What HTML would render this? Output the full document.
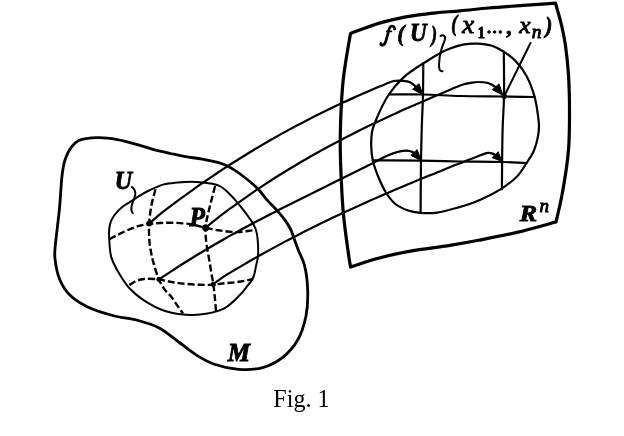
<!DOCTYPE html>
<html><head><meta charset="utf-8"><style>
html,body{margin:0;padding:0;background:#fff;}
body{width:624px;height:436px;overflow:hidden;font-family:"Liberation Serif",serif;}
svg{display:block;filter:grayscale(1);}
</style></head><body>
<svg width="624" height="436" viewBox="0 0 624 436">
<g fill="none" stroke="#000" stroke-linecap="round" stroke-linejoin="round">
<path stroke-width="3.2" d="M350.5 33.5C359.8 30.1 370.0 26.0 378.5 23.4C385.4 21.3 391.3 20.0 397.7 18.6C404.1 17.2 410.5 16.2 416.9 15.2C423.3 14.2 429.4 13.5 436.2 12.8C443.7 12.0 451.7 11.6 460.0 10.8C469.1 10.0 478.3 8.9 488.5 8.0C500.4 7.0 515.1 6.0 527.0 5.2C537.2 4.5 546.0 3.9 555.5 3.2C557.5 10.5 559.8 17.9 561.5 25.0C563.1 31.8 564.3 37.6 565.4 45.0C566.7 54.0 567.8 64.5 568.5 75.0C569.2 86.4 569.5 98.8 569.5 111.0C569.5 123.7 569.6 136.6 568.5 150.0C567.3 164.5 564.4 181.9 562.0 195.0C560.1 205.2 558.0 213.0 556.0 222.0C543.0 225.5 530.0 229.3 517.0 232.4C504.2 235.4 490.4 238.0 478.5 240.3C468.3 242.3 460.3 243.7 450.0 245.4C437.9 247.4 423.2 248.8 410.5 251.1C398.4 253.3 385.9 256.1 375.3 259.0C366.2 261.5 358.8 264.3 350.5 267.0C349.6 261.3 348.8 256.8 347.9 250.0C346.5 240.0 344.4 225.0 343.3 213.0C342.3 201.7 341.8 190.7 341.3 180.0C340.8 169.8 340.4 159.0 340.3 150.0C340.2 142.7 340.2 137.2 340.4 130.0C340.6 121.4 341.0 110.8 341.5 102.0C342.0 94.2 342.4 87.1 343.2 80.0C343.9 73.2 344.9 67.1 346.0 60.0C347.3 51.8 349.0 42.3 350.5 33.5Z"/>
<path stroke-width="2.8" d="M54.9 250.0C55.4 241.7 58.1 222.7 59.4 209.4C60.6 196.7 61.1 181.3 62.5 172.0C63.3 166.4 63.9 163.0 65.4 158.8C66.8 154.7 68.8 150.4 71.2 147.3C73.3 144.5 75.4 142.2 78.8 140.6C83.5 138.4 91.6 137.9 98.0 137.7C104.4 137.5 110.9 138.5 117.3 139.6C123.7 140.7 130.1 142.6 136.5 144.4C142.9 146.2 149.5 148.6 155.8 150.2C161.6 151.7 167.5 152.9 172.8 154.0C177.4 155.0 181.0 155.8 185.6 156.6C190.8 157.5 196.9 158.2 202.3 159.2C207.5 160.2 213.1 161.1 217.7 162.4C221.5 163.5 224.5 164.5 228.0 166.2C232.0 168.2 235.9 170.8 240.2 174.0C245.6 178.0 252.8 183.8 257.6 188.6C261.6 192.6 264.3 196.8 267.7 200.6C270.9 204.2 274.5 207.6 277.5 211.0C280.2 214.1 282.8 217.0 285.0 220.1C287.1 223.0 289.0 226.0 290.5 229.0C291.8 231.7 292.5 234.2 293.6 237.3C295.0 241.1 296.6 245.6 298.3 250.0C300.1 254.7 302.7 258.9 304.2 264.4C306.1 271.3 307.3 280.2 307.6 288.5C308.0 297.3 307.7 307.3 306.0 316.0C304.3 324.4 301.7 333.0 297.7 340.0C293.9 346.7 288.6 352.7 282.7 357.3C276.9 361.9 269.8 365.6 262.6 367.6C255.1 369.7 246.5 369.9 238.5 369.3C230.4 368.7 221.6 366.7 214.4 364.2C208.0 362.0 202.8 359.0 197.2 355.6C191.3 352.0 186.0 347.4 180.0 343.0C173.4 338.2 166.4 331.7 159.2 327.9C152.5 324.4 145.6 322.5 138.3 320.5C130.7 318.4 122.6 318.1 114.5 316.0C105.8 313.7 95.5 310.8 87.7 307.0C80.9 303.7 74.6 300.0 69.8 295.1C65.3 290.5 61.9 284.7 59.4 278.7C56.8 272.4 55.5 263.2 54.9 257.9C54.6 254.7 54.7 253.6 54.9 250.0Z"/>
<path stroke-width="2" d="M109.3 240.0C109.0 236.0 108.9 232.7 109.2 229.4C109.5 226.5 109.9 223.9 110.9 221.4C111.8 218.9 113.2 216.8 114.9 214.5C117.0 211.8 120.0 208.8 122.9 206.5C125.7 204.2 129.3 202.5 132.1 200.7C134.6 199.1 136.4 197.7 139.0 196.1C142.2 194.1 146.1 191.9 150.0 190.0C154.3 188.0 159.1 185.7 163.8 184.4C168.3 183.2 172.9 182.9 177.5 182.4C182.1 182.0 187.2 181.7 191.3 181.7C194.5 181.7 196.8 181.9 200.0 182.2C203.8 182.6 208.7 183.0 212.4 183.8C215.5 184.5 218.1 185.1 220.6 186.5C223.1 187.9 225.1 189.8 227.5 192.0C230.6 194.8 234.2 198.8 237.2 202.3C240.1 205.7 242.8 209.3 245.4 212.7C247.8 215.9 250.4 219.0 252.3 222.3C254.1 225.4 255.6 228.5 256.5 232.0C257.5 235.9 257.8 240.5 258.0 244.6C258.2 248.6 258.4 252.5 258.0 256.3C257.6 259.9 256.7 263.1 255.9 266.6C255.1 270.2 254.8 274.3 253.2 277.7C251.6 281.2 248.7 284.3 246.3 287.3C244.1 290.2 242.3 292.6 239.4 295.5C235.5 299.4 230.1 305.2 224.7 308.2C219.5 311.1 213.3 312.5 207.5 313.6C201.8 314.7 196.3 315.3 190.0 315.0C182.4 314.7 172.8 313.5 165.1 311.0C157.7 308.6 150.5 304.6 144.3 300.6C138.7 296.9 133.5 292.6 129.4 288.2C125.8 284.3 123.3 280.4 120.5 275.8C117.3 270.5 113.4 264.0 111.5 257.9C109.7 252.1 109.6 245.2 109.3 240.0Z"/>
<path stroke-width="2.2" d="M477.5 43.6C482.1 43.8 486.7 44.2 491.0 45.5C495.4 46.8 499.5 49.1 503.5 51.6C507.8 54.3 512.1 57.3 515.8 61.2C519.8 65.4 523.5 70.4 526.5 76.0C529.9 82.2 532.7 90.0 534.6 96.9C536.4 103.2 537.3 110.3 538.0 115.6C538.5 119.6 539.0 122.6 539.0 126.0C539.0 129.4 538.7 132.5 538.0 136.2C537.2 140.6 535.8 146.2 533.9 150.7C532.0 155.1 529.3 158.9 526.6 163.0C523.7 167.5 520.9 172.4 517.0 176.5C512.7 181.0 507.4 184.9 501.7 188.6C495.5 192.6 488.2 196.3 481.0 199.4C473.8 202.6 466.0 205.2 458.5 207.4C451.3 209.5 443.7 211.8 437.0 212.6C431.2 213.3 425.5 213.2 420.4 212.8C416.0 212.4 412.2 211.9 408.2 210.5C403.9 209.0 399.1 206.9 395.4 204.0C391.7 201.1 388.9 197.1 386.2 193.0C383.3 188.6 381.1 183.5 378.9 178.3C376.6 172.7 374.1 166.1 372.8 160.4C371.7 155.4 371.3 150.8 371.2 146.0C371.1 141.3 371.2 136.4 372.0 132.0C372.8 127.8 374.1 124.7 376.0 120.0C378.9 113.0 383.9 101.9 388.8 94.5C393.1 88.0 398.4 82.2 403.3 77.6C407.5 73.7 412.2 70.6 416.0 68.0C419.0 66.0 420.7 64.9 424.1 62.9C429.5 59.6 438.4 53.7 445.3 50.6C451.3 47.9 457.2 45.7 462.9 44.6C467.9 43.6 472.7 43.4 477.5 43.6Z"/>
<path stroke-width="2.2" d="M423.3 63.0C423.2 73.5 423.2 83.7 423.0 94.5C422.7 106.0 422.0 118.6 421.7 130.0C421.4 140.5 421.2 148.9 421.0 160.4C420.8 175.5 420.7 195.5 420.6 213.0"/>
<path stroke-width="2.2" d="M503.8 51.6C503.9 66.6 504.3 82.6 504.0 96.5C503.8 108.5 502.9 117.2 502.6 130.0C502.1 147.0 502.1 169.5 501.9 189.3"/>
<path stroke-width="2.2" d="M388.8 94.5C400.2 94.5 411.4 94.3 423.0 94.5C435.1 94.7 447.1 95.7 460.0 96.0C474.0 96.4 490.7 96.3 504.0 96.5C515.1 96.7 524.4 96.8 534.6 97.0"/>
<path stroke-width="2.2" d="M372.8 160.4C388.9 160.5 405.8 160.4 421.0 160.6C434.7 160.8 446.8 161.3 460.0 161.5C473.7 161.7 489.9 161.7 502.0 162.0C511.3 162.2 518.4 162.7 526.6 163.0"/>
<path stroke-width="2.2" d="M149.2 223.5C153.3 220.0 157.3 216.4 161.4 213.1C165.4 209.9 169.5 206.9 173.6 203.9C177.6 200.8 181.7 197.8 185.8 194.9C189.8 192.0 193.9 189.1 197.9 186.2C202.0 183.4 206.1 180.6 210.1 177.8C214.2 175.1 218.2 172.4 222.3 169.7C226.4 167.0 230.4 164.4 234.5 161.8C238.5 159.2 242.6 156.7 246.7 154.2C250.7 151.7 254.8 149.3 258.9 146.9C262.9 144.5 267.0 142.1 271.0 139.8C275.1 137.5 279.2 135.2 283.2 132.9C287.3 130.7 291.4 128.5 295.4 126.3C299.5 124.1 303.5 122.0 307.6 119.9C311.7 117.8 315.7 115.8 319.8 113.8C323.8 111.7 327.9 109.8 332.0 107.8C336.0 105.9 340.1 104.0 344.2 102.1C348.2 100.2 352.3 98.4 356.3 96.6C360.4 94.8 364.5 93.0 368.5 91.3C372.6 89.5 376.6 87.8 380.7 86.1C384.8 84.5 389.0 82.1 392.9 81.2C396.4 80.5 400.0 80.6 403.0 80.8C405.6 81.0 407.8 81.2 410.0 82.2C412.3 83.3 414.3 85.5 416.5 87.2"/>
<path stroke-width="2.2" d="M205.5 227.8C209.6 224.5 213.6 221.1 217.8 217.9C221.8 214.7 225.9 211.7 230.0 208.7C234.1 205.7 238.2 202.7 242.3 199.8C246.4 197.0 250.4 194.1 254.5 191.3C258.6 188.6 262.7 185.9 266.8 183.2C270.9 180.5 275.0 177.9 279.1 175.3C283.1 172.8 287.2 170.3 291.3 167.8C295.4 165.3 299.5 162.9 303.6 160.5C307.7 158.1 311.8 155.8 315.9 153.5C319.9 151.2 324.0 149.0 328.1 146.8C332.2 144.6 336.3 142.4 340.4 140.2C344.5 138.1 348.5 136.0 352.6 133.9C356.7 131.9 360.8 129.8 364.9 127.8C369.0 125.8 373.1 123.9 377.2 121.9C381.2 120.0 385.3 118.1 389.4 116.2C393.5 114.3 397.6 112.5 401.7 110.6C405.8 108.8 409.9 107.0 414.0 105.2C418.0 103.4 422.1 101.6 426.2 99.9C430.3 98.1 434.4 96.4 438.5 94.7C442.6 92.9 446.6 91.2 450.7 89.5C454.8 87.8 459.3 85.6 463.0 84.5C465.9 83.6 468.4 83.2 471.0 82.8C473.5 82.4 475.7 82.0 478.2 82.0C481.0 82.0 484.5 82.2 487.0 82.8C488.9 83.3 490.4 84.0 492.0 84.8C493.5 85.6 494.9 86.7 496.3 87.6"/>
<path stroke-width="2.2" d="M159.1 279.4C163.1 276.7 167.2 274.0 171.2 271.4C175.2 268.7 179.2 266.1 183.3 263.5C187.3 261.0 191.3 258.5 195.4 256.0C199.4 253.5 203.4 251.1 207.5 248.7C211.5 246.4 215.5 244.0 219.5 241.7C223.6 239.4 227.6 237.1 231.6 234.9C235.7 232.7 239.7 230.4 243.7 228.3C247.8 226.1 251.8 223.9 255.8 221.8C259.8 219.7 263.9 217.6 267.9 215.5C271.9 213.4 276.0 211.4 280.0 209.3C284.0 207.3 288.1 205.2 292.1 203.2C296.1 201.2 300.1 199.2 304.2 197.2C308.2 195.2 312.2 193.2 316.3 191.2C320.3 189.2 324.3 187.2 328.4 185.2C332.4 183.3 336.4 181.3 340.4 179.3C344.5 177.3 348.5 175.3 352.5 173.3C356.6 171.3 360.6 169.3 364.6 167.3C368.7 165.2 372.7 163.2 376.7 161.1C380.7 159.1 384.5 156.6 388.8 154.9C393.3 153.2 399.0 151.3 403.0 150.8C405.9 150.5 408.4 150.6 410.5 151.2C412.2 151.6 413.3 152.6 414.7 153.3"/>
<path stroke-width="2.2" d="M213.3 283.9C217.3 281.1 221.3 278.2 225.3 275.6C229.3 273.1 233.3 270.8 237.4 268.4C241.4 266.0 245.4 263.7 249.4 261.3C253.4 259.0 257.4 256.8 261.4 254.5C265.4 252.3 269.4 250.1 273.5 247.9C277.5 245.7 281.5 243.6 285.5 241.4C289.5 239.3 293.5 237.2 297.5 235.2C301.5 233.1 305.5 231.1 309.6 229.1C313.6 227.1 317.6 225.1 321.6 223.1C325.6 221.2 329.6 219.3 333.6 217.3C337.6 215.4 341.6 213.6 345.6 211.7C349.7 209.8 353.7 208.0 357.7 206.2C361.7 204.4 365.7 202.6 369.7 200.8C373.7 199.0 377.7 197.2 381.7 195.5C385.8 193.8 389.8 192.0 393.8 190.3C397.8 188.6 401.8 186.9 405.8 185.2C409.8 183.6 413.8 181.9 417.8 180.2C421.8 178.6 425.9 176.9 429.9 175.3C433.9 173.7 437.9 172.1 441.9 170.4C445.9 168.8 449.9 167.2 453.9 165.6C457.9 164.1 462.0 162.5 466.0 160.9C470.0 159.3 474.2 157.6 478.0 156.2C481.4 154.9 485.1 153.2 487.7 152.9C489.4 152.7 490.6 153.0 492.0 153.4C493.4 153.8 494.6 154.7 495.9 155.4"/>
<path stroke-width="2" d="M530.5 43L504 96.5"/>
<path stroke-width="2" d="M440.5 36C441.5 34.8 444 34.6 445 37C445.8 39.5 443 44 441.5 49C440 54 439 59 439 65C439 69.5 440 71.6 442.6 71.2"/>
<path stroke-width="2" d="M131.9 187C134 188.5 135.5 190.5 135.3 194C135 197.5 133 201 132 204.5C131 208 130.8 211 132.8 213.2"/>
</g>
<g fill="none" stroke="#000" stroke-width="2.4" stroke-dasharray="7 3" stroke-linecap="butt">
<path d="M109.5 239.2C112.0 237.9 114.2 236.6 117.0 235.2C120.3 233.5 124.3 231.6 128.0 230.0C131.6 228.4 135.4 226.8 139.0 225.8C142.4 224.9 145.7 224.5 149.2 224.0C152.7 223.5 156.1 223.2 160.0 223.0C164.6 222.8 169.9 222.6 175.0 222.8C180.3 223.0 186.1 223.5 191.3 224.4C196.2 225.2 200.9 226.8 205.5 227.8C209.9 228.7 213.6 229.6 218.3 230.3C223.9 231.1 230.7 232.1 236.7 232.1C242.4 232.1 247.7 230.9 253.2 230.3"/>
<path d="M129.4 285.0C131.6 283.7 133.6 282.0 136.0 281.0C138.5 280.0 140.9 279.3 144.0 279.0C148.2 278.5 154.4 278.9 159.0 279.4C163.0 279.9 166.2 281.0 170.0 281.7C174.1 282.4 178.4 283.1 183.0 283.6C188.3 284.2 194.7 284.7 200.0 284.8C204.7 284.9 209.0 284.9 213.3 284.6C217.3 284.3 220.9 283.6 225.0 283.2C229.5 282.7 234.3 282.5 239.0 281.8C243.7 281.1 248.5 279.9 253.2 279.0"/>
<path d="M155.5 189.3C154.2 194.5 152.5 199.5 151.5 205.0C150.4 210.9 149.6 217.5 149.2 223.5C148.9 229.1 148.9 234.9 149.3 240.0C149.6 244.3 150.3 248.1 151.0 252.0C151.7 255.8 152.4 259.0 153.5 263.0C154.9 268.0 156.8 274.6 158.9 279.4C160.7 283.4 162.8 287.0 165.0 290.0C166.9 292.6 169.2 294.2 171.1 296.6C173.2 299.2 175.0 302.2 177.0 305.0C179.0 307.8 181.0 310.7 183.0 313.5"/>
<path d="M215.1 186.0C213.9 190.7 212.6 195.5 211.5 200.0C210.4 204.2 209.4 208.3 208.5 212.0C207.7 215.2 207.0 218.2 206.5 221.0C206.1 223.4 205.6 225.3 205.5 227.8C205.3 231.0 205.6 235.2 205.9 238.8C206.2 242.3 206.7 245.6 207.3 249.1C207.9 252.9 208.7 256.8 209.4 260.8C210.1 264.9 210.7 269.2 211.4 273.2C212.0 276.9 212.8 280.3 213.3 283.9C213.8 287.6 214.2 291.0 214.6 295.0C215.1 299.8 215.5 305.7 216.0 311.0"/>
</g>
<g fill="#000" stroke="#000" stroke-width="1" stroke-linejoin="round">
<path d="M423.0 94.8L412.7 89.2L419.0 83.7Z"/>
<path d="M503.0 95.2L492.3 89.8L499.0 83.9Z"/>
<path d="M421.3 160.6L410.9 155.4L417.1 149.7Z"/>
<path d="M501.8 161.3L492.2 157.7L498.2 151.7Z"/>
<circle cx="205.6" cy="227.8" r="3.1"/>
<circle cx="149.2" cy="223.5" r="2.6"/>
<circle cx="504.2" cy="96.3" r="2.4"/>
<circle cx="158.9" cy="279.4" r="2.1"/>
<circle cx="213.3" cy="284.4" r="2.2"/>
</g>
<g fill="#000" stroke="#000" stroke-width="0.9">
<path fill="none" stroke="#000" stroke-width="2.7" stroke-linecap="round" d="M394.6 29.2C394.6 26.6 392.6 25.4 390.6 26.6C388.9 27.8 388.5 31 387.9 34L385.8 41.2C385 43.6 383.6 45.4 381.9 45.1C381 44.9 380.6 44.2 380.9 43.4"/>
<path fill="none" stroke="#000" stroke-width="1.7" d="M386 31.4L392.2 31.4"/>
<text transform="translate(397.54 41.19) scale(0.847 0.898)" font-size="25" font-family="Liberation Serif" font-weight="bold" font-style="italic">(</text>
<text transform="translate(410.04 41.15) scale(0.924 0.988)" font-size="25" font-family="Liberation Serif" font-weight="bold" font-style="italic">U</text>
<text transform="translate(431.31 41.57) scale(0.695 0.920)" font-size="25" font-family="Liberation Serif" font-weight="bold" font-style="italic">)</text>
<text transform="translate(451.19 31.33) scale(0.729 0.889)" font-size="25" font-family="Liberation Serif" font-weight="bold" font-style="italic">(</text>
<text transform="translate(462.27 32.80) scale(1.078 0.984)" font-size="25" font-family="Liberation Serif" font-style="italic">x</text>
<text transform="translate(477.69 38.00) scale(0.886 1.019)" font-size="16" font-family="Liberation Serif" font-weight="bold">1</text>
<circle cx="489.0" cy="32" r="1.3"/>
<circle cx="494.6" cy="32" r="1.3"/>
<circle cx="500.3" cy="32" r="1.3"/>
<text transform="translate(507.00 33.94) scale(0.995 0.905)" font-size="22" font-family="Liberation Serif" font-weight="bold" font-style="italic">,</text>
<text transform="translate(519.26 32.60) scale(1.024 0.914)" font-size="25" font-family="Liberation Serif" font-style="italic">x</text>
<text transform="translate(531.83 38.00) scale(1.088 1.000)" font-size="18" font-family="Liberation Serif" font-style="italic">n</text>
<text transform="translate(545.42 32.69) scale(0.811 0.898)" font-size="25" font-family="Liberation Serif" font-weight="bold" font-style="italic">)</text>
<text transform="translate(519.80 220.80) scale(1.041 0.929)" font-size="25" font-family="Liberation Serif" font-weight="bold" font-style="italic">R</text>
<text transform="translate(539.54 211.80) scale(1.062 1.000)" font-size="18" font-family="Liberation Serif" font-style="italic">n</text>
<text transform="translate(114.77 188.65) scale(0.959 1.012)" font-size="25" font-family="Liberation Serif" font-weight="bold" font-style="italic">U</text>
<text transform="translate(189.50 226.00) scale(1.008 1.102)" font-size="25" font-family="Liberation Serif" font-weight="bold" font-style="italic">P</text>
<text transform="translate(227.87 360.50) scale(0.965 0.982)" font-size="26" font-family="Liberation Serif" font-weight="bold" font-style="italic">M</text>
</g>
<g fill="#000"><text transform="translate(273.33 407.18) scale(0.891 0.961)" font-size="27" font-family="Liberation Serif">Fig. 1</text></g>
</svg>
</body></html>
